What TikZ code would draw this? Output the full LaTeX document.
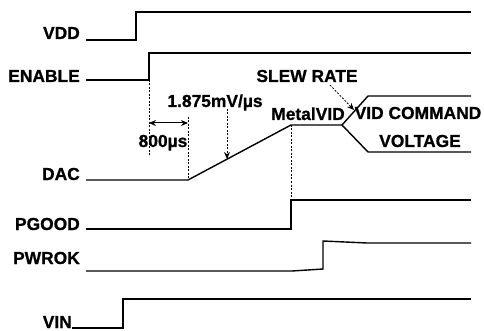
\documentclass[tikz,border=0pt]{standalone}
\usepackage{fontspec}
\setmainfont{Liberation Sans}
\newfontfamily\lblfont[FakeBold=0.8]{Liberation Sans}
\usetikzlibrary{arrows.meta}
\begin{document}
\begin{tikzpicture}[x=1pt,y=-1pt,
  sig/.style={line width=1.4pt, line join=miter},
  guide/.style={line width=0.8pt, dash pattern=on 2pt off 1.5pt},
  lbl/.style={font=\lblfont\fontsize{17.4}{17.4}\selectfont\bfseries, inner sep=0pt},
  tip/.style={-{Stealth[length=7pt,width=6pt]}},
]
\useasboundingbox[fill=white] (0,0) rectangle (484,331);
% labels
\node[lbl, anchor=base east] (vdd) at (80,39) {VDD};
\node[lbl, anchor=base east] (en) at (80,82) {ENABLE};
\node[lbl, anchor=base east] (dac) at (80,180) {DAC};
\node[lbl, anchor=base east] (pg) at (80,230) {PGOOD};
\node[lbl, anchor=base east] (pw) at (80,264) {PWROK};
\node[lbl, anchor=base east] (vin) at (72,328) {VIN};
\node[lbl, anchor=base] (t800) at (163,147) {800µs};
\node[lbl, anchor=base] (slope) at (215,107) {1.875mV/µs};
\node[lbl, anchor=base] (slew) at (307,82) {SLEW RATE};
\node[lbl, anchor=base] (mvid) at (308,120) {MetalVID};
\node[lbl, anchor=base] (vidc) at (418,119) {VID COMMAND};
\node[lbl, anchor=base] (volt) at (420,147) {VOLTAGE};
% key points
\coordinate (enr) at (149,80);
\coordinate (dacs) at (188,180);
\coordinate (dace) at (291,125);
\coordinate (pgr) at (291,200);
% signals
\draw[sig] (86,40) -- (136,40) -- (136,12) -- (471,12);
\draw[sig] (86,80) -- (enr) -- (149,53) -- (471,53);
\draw[sig] (86,180) -- (dacs) -- (dace) -- (342,125) -- (368,96) -- (471,96);
\draw[sig] (342,125) -- (368,152) -- (471,152);
\draw[sig] (86,229) -- (291,229) -- (pgr) -- (471,200);
\draw[sig] (86,271) -- (292,271) -- (323,269) -- (323,241) -- (367,243) -- (471,243);
\draw[sig] (72,328) -- (123,328) -- (123,299) -- (471,299);
% guides
\draw[guide] (enr) -- (149,155);
\draw[guide] (188,117) -- (dacs);
\draw[guide] (dace) -- (pgr);
\draw[line width=1pt, {Stealth[length=7pt,width=6pt]}-{Stealth[length=7pt,width=6pt]}] (149,123) -- (188,123);
\draw[guide, tip] (227,109) -- (227,159);
\draw[guide, tip] (330,85) -- (354,110);
\end{tikzpicture}
\end{document}
